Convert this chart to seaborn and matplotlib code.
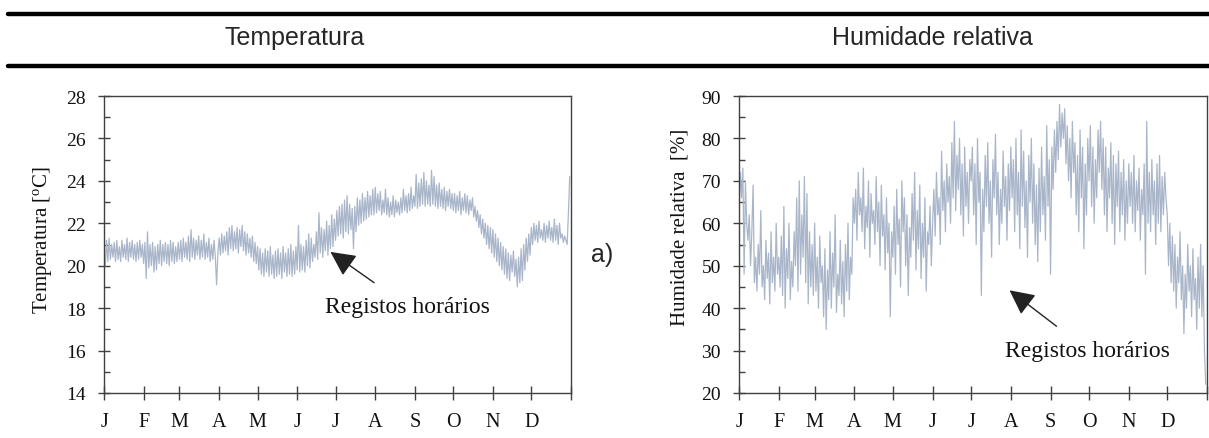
import numpy as np
import pandas as pd
import matplotlib
matplotlib.use("Agg")
import matplotlib.pyplot as plt
from matplotlib.lines import Line2D
from matplotlib.ticker import MultipleLocator
import seaborn as sns

# ---------------- data ----------------
month_labels = ['J', 'F', 'M', 'A', 'M', 'J', 'J', 'A', 'S', 'O', 'N', 'D', '']
month_starts = [0, 31, 59, 90, 120, 151, 181, 212, 243, 273, 304, 334, 365]

# one reading per day (alternating upper / lower hourly values), Jan..Dec
temperatura = [
    # Jan
    20.3, 20.0, 21.2, 20.2, 21.3, 20.3, 21.0, 20.4, 21.1, 20.2,
    21.2, 20.3, 20.9, 20.2, 21.2, 20.4, 21.0, 20.3, 21.3, 20.2,
    21.1, 20.4, 21.2, 20.3, 21.0, 20.2, 21.1, 20.3, 21.2, 20.4, 21.0,
    # Feb
    20.1, 21.1, 19.4, 21.6, 19.9, 21.0, 20.0, 21.1, 19.7, 20.9,
    19.8, 21.0, 20.1, 21.2, 20.0, 21.0, 20.2, 21.1, 20.1, 21.0,
    20.0, 21.2, 20.2, 21.1, 20.1, 20.9, 20.2, 21.1,
    # Mar
    20.3, 21.2, 20.2, 21.3, 20.4, 21.1, 20.3, 21.4, 20.2, 21.7,
    20.4, 21.3, 20.3, 21.2, 20.5, 21.4, 20.3, 21.2, 20.4, 21.5,
    20.3, 21.1, 20.4, 21.3, 20.2, 21.0, 20.3, 21.2, 20.4, 19.1, 20.6,
    # Apr
    21.3, 20.5, 21.5, 20.6, 21.4, 20.7, 21.6, 20.5, 21.8, 20.8,
    21.9, 20.7, 21.6, 20.8, 21.8, 20.6, 21.7, 20.9, 21.9, 20.7,
    21.6, 20.5, 21.5, 20.6, 21.3, 20.4, 21.4, 20.2, 21.1, 20.1,
    # May
    20.9, 19.8, 20.8, 19.6, 20.6, 19.5, 20.8, 19.7, 20.7, 19.5,
    20.9, 19.6, 20.5, 19.4, 20.7, 19.5, 20.8, 19.6, 20.6, 19.4,
    20.9, 19.7, 20.6, 19.5, 20.8, 19.6, 21.0, 19.5, 20.7, 19.6, 20.9,
    # Jun
    19.8, 21.9, 19.7, 21.0, 19.8, 20.9, 19.7, 21.2, 20.0, 21.5,
    19.9, 21.3, 20.2, 21.0, 20.4, 21.6, 20.3, 22.5, 20.6, 21.8,
    20.4, 21.7, 20.7, 22.1, 20.5, 21.9, 20.8, 22.4, 20.9, 22.2,
    # Jul
    21.2, 22.6, 21.4, 22.8, 21.5, 22.9, 21.3, 23.1, 21.6, 23.3,
    21.5, 22.9, 21.7, 22.7, 20.8, 22.8, 21.6, 23.2, 21.9, 23.1,
    22.0, 23.4, 22.1, 23.2, 22.2, 23.5, 22.3, 23.3, 22.4, 23.6, 22.4,
    # Aug
    23.7, 22.5, 23.4, 22.6, 23.5, 22.4, 23.1, 22.5, 23.6, 22.4,
    23.2, 22.3, 23.0, 22.4, 23.3, 22.3, 23.1, 22.5, 23.0, 22.4,
    23.2, 22.5, 23.6, 22.6, 23.3, 22.5, 23.4, 22.6, 23.7, 22.7, 23.3,
    # Sep
    22.8, 24.3, 22.7, 23.9, 22.8, 24.1, 22.9, 24.4, 22.8, 24.0,
    22.9, 23.8, 22.8, 24.5, 22.9, 24.2, 22.8, 23.8, 22.7, 23.9,
    22.8, 23.6, 22.7, 23.7, 22.6, 23.5, 22.8, 23.6, 22.7, 23.4,
    # Oct
    22.6, 23.4, 22.5, 23.3, 22.6, 23.5, 22.4, 23.2, 22.6, 23.4,
    22.5, 23.3, 22.4, 23.1, 22.6, 23.2, 22.3, 22.8, 22.1, 22.6,
    21.8, 22.4, 21.5, 22.2, 21.3, 22.0, 21.0, 21.9, 20.8, 21.8, 20.6,
    # Nov
    21.7, 20.4, 21.5, 20.2, 21.3, 20.0, 21.1, 19.8, 20.9, 19.6,
    20.8, 19.4, 20.6, 19.3, 20.5, 19.7, 20.7, 19.5, 20.3, 19.0,
    20.4, 19.2, 20.8, 19.3, 21.0, 19.8, 21.3, 20.2, 21.5, 20.5,
    # Dec
    21.8, 21.0, 22.0, 21.2, 21.9, 21.1, 22.1, 21.3, 21.7, 21.2,
    22.0, 21.1, 21.9, 21.3, 22.1, 21.2, 21.8, 21.1, 22.2, 21.2,
    21.9, 21.0, 22.0, 21.3, 21.5, 21.1, 21.4, 21.2, 21.0, 22.5, 24.2,
]

humidade = [
    # Jan
    64, 72, 66, 73, 48, 70, 60, 56, 62, 50,
    58, 69, 46, 52, 44, 55, 48, 63, 45, 50,
    42, 56, 47, 53, 41, 58, 46, 52, 44, 60, 48,
    # Feb
    52, 45, 57, 43, 64, 40, 54, 47, 60, 42,
    51, 45, 58, 50, 66, 44, 70, 48, 62, 52,
    71, 46, 67, 41, 58, 45, 55, 43,
    # Mar
    60, 44, 52, 40, 57, 46, 50, 38, 54, 35,
    49, 42, 58, 40, 53, 45, 62, 39, 48, 43,
    56, 41, 51, 38, 55, 44, 60, 42, 52, 48, 66,
    # Apr
    60, 68, 56, 72, 62, 66, 58, 73, 54, 64,
    59, 70, 52, 67, 60, 63, 55, 71, 58, 65,
    50, 69, 57, 62, 49, 66, 53, 60, 38, 58,
    # May
    52, 64, 48, 68, 55, 61, 45, 70, 58, 66,
    50, 62, 43, 59, 52, 67, 56, 72, 49, 63,
    54, 69, 47, 60, 52, 66, 44, 58, 55, 64, 50,
    # Jun
    60, 68, 57, 72, 62, 66, 55, 77, 63, 70,
    58, 74, 65, 71, 60, 79, 66, 84, 63, 76,
    68, 80, 62, 74, 57, 78, 64, 72, 60, 75,
    # Jul
    70, 78, 62, 74, 55, 80, 65, 72, 43, 68,
    58, 76, 64, 79, 60, 70, 52, 75, 66, 81,
    62, 72, 55, 68, 60, 77, 64, 71, 56, 74, 63,
    # Aug
    78, 66, 75, 58, 80, 62, 72, 54, 82, 64,
    77, 59, 70, 52, 76, 65, 80, 60, 74, 55,
    69, 51, 73, 58, 78, 62, 71, 56, 83, 64, 75,
    # Sep
    48, 78, 68, 82, 72, 84, 75, 88, 78, 86,
    80, 87, 74, 83, 70, 80, 66, 84, 72, 79,
    62, 76, 58, 82, 66, 78, 54, 74, 62, 80,
    # Oct
    70, 83, 64, 78, 60, 75, 66, 82, 72, 84,
    68, 80, 62, 78, 58, 73, 66, 79, 60, 76,
    55, 74, 64, 77, 58, 72, 62, 75, 56, 70, 60,
    # Nov
    74, 64, 72, 60, 76, 58, 70, 63, 73, 56,
    68, 62, 74, 48, 84, 60, 72, 58, 75, 62,
    70, 55, 74, 60, 76, 58, 71, 62, 72, 66,
    # Dec
    62, 50, 60, 46, 57, 44, 55, 40, 52, 46,
    58, 42, 50, 34, 48, 40, 55, 44, 50, 38,
    54, 42, 47, 35, 52, 40, 55, 38, 50, 30, 22,
]

df_temp = pd.DataFrame({"dia": np.arange(len(temperatura)), "valor": temperatura})
df_hum = pd.DataFrame({"dia": np.arange(len(humidade)), "valor": humidade})

# ---------------- style ----------------
sns.set_style("white")
plt.rcParams['font.family'] = ['Liberation Serif', 'DejaVu Serif']
plt.rcParams['mathtext.fontset'] = 'stix'

W, H = 1209, 439
fig = plt.figure(figsize=(W / 100, H / 100), dpi=100)

line_color = '#a9b6ca'
spine_color = '#404040'
text_color = '#111111'


def px_rect(x0, x1, y0, y1):
    return [x0 / W, 1 - y1 / H, (x1 - x0) / W, (y1 - y0) / H]


def style_axis(ax, ymin, ymax, ymaj, ymin_step, ylabel, label_y):
    ax.set_xlim(0, 365)
    ax.set_ylim(ymin, ymax)
    ax.set_xticks(month_starts)
    ax.set_xticklabels(month_labels)
    ax.yaxis.set_major_locator(MultipleLocator(ymaj))
    ax.yaxis.set_minor_locator(MultipleLocator(ymin_step))
    for s in ax.spines.values():
        s.set_color(spine_color)
        s.set_linewidth(1.0)
        s.set_visible(True)
    ax.tick_params(axis='x', which='major', direction='inout', length=10,
                   width=1, color=spine_color, labelsize=14.5, pad=9,
                   labelcolor=text_color, bottom=True)
    ax.tick_params(axis='y', which='major', direction='inout', length=8,
                   width=1, color=spine_color, labelsize=14, pad=9,
                   labelcolor=text_color, left=True)
    ax.tick_params(axis='y', which='minor', direction='in', length=4,
                   width=1, color=spine_color, left=True)
    ax.set_xlabel('')
    ax.set_ylabel(ylabel, fontsize=15, color=text_color)
    ax.yaxis.set_label_coords(-0.106, label_y)
    ax.grid(False)


arrow = dict(arrowstyle='-|>,head_length=0.9,head_width=0.45',
             color='#222222', lw=1.0, shrinkA=12, shrinkB=0)

ax1 = fig.add_axes(px_rect(104, 571, 97, 394))
sns.lineplot(data=df_temp, x="dia", y="valor", ax=ax1, color=line_color,
             linewidth=0.9, estimator=None, sort=False)
style_axis(ax1, 14, 28, 2, 1, 'Temperatura [$\\mathregular{^o}$C]', 0.52)
ax1.annotate('Registos horários', xy=(177, 20.65), xytext=(237, 18.1),
             fontsize=17, ha='center', va='center', color=text_color,
             arrowprops=arrow)

ax2 = fig.add_axes(px_rect(739, 1207, 97, 394))
sns.lineplot(data=df_hum, x="dia", y="valor", ax=ax2, color=line_color,
             linewidth=0.9, estimator=None, sort=False)
style_axis(ax2, 20, 90, 10, 5, 'Humidade relativa  [%]', 0.56)
ax2.annotate('Registos horários', xy=(211, 44.2), xytext=(272, 30.1),
             fontsize=17, ha='center', va='center', color=text_color,
             arrowprops=arrow)

# ---------------- header ----------------
for ypx in (15, 67):
    fig.add_artist(Line2D([8 / W, 1.0], [1 - ypx / H, 1 - ypx / H],
                          transform=fig.transFigure, color='black', lw=3.2))
sans = ['Liberation Sans', 'DejaVu Sans']
fig.text(295 / W, 1 - 38 / H, 'Temperatura', ha='center', va='center',
         fontsize=18, family=sans)
fig.text(932 / W, 1 - 38 / H, 'Humidade relativa', ha='center', va='center',
         fontsize=18, family=sans)
fig.text(602 / W, 1 - 255 / H, 'a)', ha='center', va='center',
         fontsize=18, family=sans)

fig.savefig('out.png', dpi=100)
